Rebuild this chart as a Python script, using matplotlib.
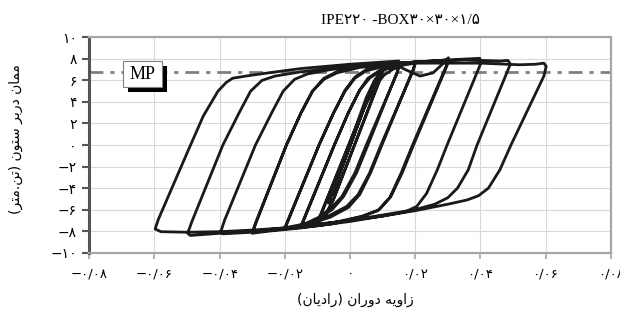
import matplotlib
matplotlib.use('Agg')
import matplotlib.pyplot as plt
from matplotlib.patches import Rectangle

# ---- data ----
# rotation (rad) and moment (t.m) along the hysteresis path, cycle by cycle
rotation = [
    0.0, 0.004, -0.004, 0.0055, -0.0055, 0.0068, -0.0066,                      # elastic cycles
    0.0, 0.005, 0.0075, 0.009, 0.01,                                             # 0.01 (1)
    0.0095, -0.005, -0.0075, -0.01,
    -0.0088, -0.0004, 0.004, 0.0075, 0.009, 0.01,                                # 0.01 (2)
    0.0095, -0.005, -0.0075, -0.01,
    -0.0088, -0.0004, 0.004, 0.008, 0.0105, 0.013, 0.015,                        # 0.015 (1)
    0.0145, 0.005, 0.0015, -0.0025, -0.006, -0.0095, -0.013, -0.015,
    -0.0138, -0.0048, -0.0005, 0.003, 0.006, 0.0095, 0.015,                      # 0.015 (2)
    0.0145, 0.0055, 0.002, -0.002, -0.0055, -0.0095, -0.015,
    -0.0138, -0.0048, -0.0005, 0.003, 0.0055, 0.009, 0.014, 0.02,                # 0.02 (1)
    0.0195, 0.0095, 0.006, 0.0025, -0.001, -0.006, -0.012, -0.02,
    -0.0188, -0.0095, -0.005, -0.0015, 0.0015, 0.005, 0.012, 0.02,               # 0.02 (2)
    0.0195, 0.0098, 0.0063, 0.003, -0.0005, -0.006, -0.012, -0.02,
    -0.0188, -0.0095, -0.005, -0.0015, 0.0015, 0.005, 0.01, 0.013, 0.017,        # 0.03 (1)
    0.0215, 0.0255, 0.028, 0.0295, 0.0302,
    0.0298, 0.0195, 0.016, 0.0125, 0.009, 0.004, -0.005, -0.015, -0.025, -0.03,
    -0.0288, -0.0195, -0.015, -0.0115, -0.008, -0.004, 0.003, 0.015, 0.025, 0.03,   # 0.03 (2)
    0.0295, 0.0192, 0.0157, 0.0122, 0.0085, 0.003, -0.005, -0.015, -0.025, -0.03,
    -0.0288, -0.0195, -0.015, -0.0115, -0.008, -0.004, 0.003, 0.015, 0.03,       # 0.04
    0.037, 0.0398, 0.0403,
    0.0298, 0.0268, 0.0235, 0.0205, 0.017, 0.01, 0.0, -0.01, -0.02, -0.03,
    -0.039, -0.0397,
    -0.0385, -0.029, -0.024, -0.0205, -0.017, -0.013, -0.006, 0.005, 0.02,       # 0.05
    0.035, 0.046, 0.0485, 0.0492,
    0.039, 0.0363, 0.033, 0.03, 0.026, 0.02, 0.01, 0.0, -0.01, -0.02, -0.03,
    -0.04, -0.049, -0.0498,
    -0.0485, -0.039, -0.034, -0.0305, -0.027, -0.023, -0.015, 0.0, 0.02,        # 0.06
    0.04, 0.052, 0.057, 0.0595, 0.0602,
    0.0595, 0.0494, 0.046, 0.0425, 0.0395, 0.036, 0.03, 0.02, 0.01, 0.0, -0.01,
    -0.02, -0.03, -0.04, -0.05, -0.058, -0.0598,
    -0.0588, -0.0495, -0.045, -0.0405, -0.038, -0.036, -0.032, -0.025, -0.015,
    0.0, 0.015,
]
moment = [
    0.0, 3.3, -3.3, 4.5, -4.6, 5.4, -5.4,
    0.2, 4.4, 6.0, 6.6, 6.9,
    6.3, -5.0, -6.5, -7.1,
    -6.3, 0.0, 3.3, 5.7, 6.5, 7.0,
    6.4, -5.0, -6.5, -7.2,
    -6.4, 0.0, 3.2, 5.6, 6.5, 7.0, 7.3,
    6.7, 0.0, -2.6, -4.8, -5.9, -6.7, -7.2, -7.5,
    -6.6, 0.0, 3.0, 5.1, 6.2, 6.9, 7.4,
    6.8, 0.0, -2.6, -4.8, -6.0, -6.8, -7.6,
    -6.7, 0.0, 3.0, 5.1, 6.2, 6.9, 7.3, 7.6,
    7.0, 0.0, -2.6, -4.6, -5.7, -6.5, -7.2, -7.7,
    -6.8, 0.0, 3.0, 5.0, 6.2, 6.9, 7.4, 7.7,
    7.1, 0.0, -2.6, -4.6, -5.8, -6.7, -7.3, -7.8,
    -6.9, 0.0, 3.0, 5.1, 6.3, 7.0, 7.4, 7.6, 7.0,
    6.4, 6.7, 7.4, 7.9, 8.1,
    7.4, 0.0, -2.6, -4.8, -6.0, -6.6, -7.2, -7.6, -7.9, -8.1,
    -7.1, 0.0, 3.0, 5.0, 6.1, 6.7, 7.2, 7.6, 7.8, 7.9,
    7.3, 0.0, -2.6, -4.9, -6.1, -6.7, -7.3, -7.7, -8.0, -8.2,
    -7.2, 0.0, 3.0, 5.0, 6.2, 6.8, 7.3, 7.6, 7.9,
    8.0, 8.05, 7.7,
    0.0, -2.3, -4.5, -5.7, -6.2, -6.6, -7.1, -7.5, -7.8, -8.1,
    -8.25, -8.1,
    -7.0, 0.0, 3.0, 5.0, 6.1, 6.6, 7.0, 7.4, 7.7,
    7.9, 7.8, 7.85, 7.5,
    0.0, -2.3, -4.0, -4.9, -5.5, -6.0, -6.5, -7.0, -7.4, -7.7, -8.0,
    -8.2, -8.4, -8.2,
    -7.1, 0.0, 3.0, 5.0, 6.0, 6.4, 6.8, 7.3, 7.6,
    7.6, 7.45, 7.5, 7.6, 7.3,
    6.4, 0.0, -2.3, -4.0, -4.7, -5.1, -5.5, -6.1, -6.6, -7.0, -7.35,
    -7.7, -7.9, -8.05, -8.1, -8.05, -7.8,
    -6.9, -0.4, 2.7, 5.0, 5.8, 6.2, 6.4, 6.7, 7.1,
    7.5, 7.8,
]
mp_value = 6.8

x_ticks = [-0.08, -0.06, -0.04, -0.02, 0.0, 0.02, 0.04, 0.06, 0.08]
x_ticklabels = ['−۰/۰۸', '−۰/۰۶', '−۰/۰۴', '−۰/۰۲', '۰', '۰/۰۲', '۰/۰۴', '۰/۰۶', '۰/۰۸']
y_ticks = [-10, -8, -6, -4, -2, 0, 2, 4, 6, 8, 10]
y_ticklabels = ['−۱۰', '−۸', '−۶', '−۴', '−۲', '۰', '۲', '۴', '۶', '۸', '۱۰']

title = 'IPE۲۲۰ -BOX۳۰×۳۰×۱/۵'
x_label = 'زاویه دوران (رادیان)'
y_label = 'ممان دربر ستون (تن.متر)'

# Persian letters -> presentation forms (isolated, final, initial, medial)
FORMS = {
    'ا': ('\uFE8D', '\uFE8E', None, None),
    'ب': ('\uFE8F', '\uFE90', '\uFE91', '\uFE92'),
    'ت': ('\uFE95', '\uFE96', '\uFE97', '\uFE98'),
    'د': ('\uFEA9', '\uFEAA', None, None),
    'ر': ('\uFEAD', '\uFEAE', None, None),
    'ز': ('\uFEAF', '\uFEB0', None, None),
    'س': ('\uFEB1', '\uFEB2', '\uFEB3', '\uFEB4'),
    'م': ('\uFEE1', '\uFEE2', '\uFEE3', '\uFEE4'),
    'ن': ('\uFEE5', '\uFEE6', '\uFEE7', '\uFEE8'),
    'ه': ('\uFEE9', '\uFEEA', '\uFEEB', '\uFEEC'),
    'و': ('\uFEED', '\uFEEE', None, None),
    'ی': ('\uFEEF', '\uFEF0', '\uFEF3', '\uFEF4'),
}


def fa(s):
    """shape persian text and put it in visual (left to right) order"""
    out = []
    for i, c in enumerate(s):
        if c not in FORMS:
            out.append(c)
            continue
        f = FORMS[c]
        prev = s[i - 1] if i > 0 else ''
        nxt = s[i + 1] if i + 1 < len(s) else ''
        join_prev = prev in FORMS and FORMS[prev][2] is not None
        join_next = f[2] is not None and nxt in FORMS
        if join_prev and join_next:
            out.append(f[3])
        elif join_prev:
            out.append(f[1])
        elif join_next:
            out.append(f[2])
        else:
            out.append(f[0])
    mirror = {'(': ')', ')': '('}
    return ''.join(mirror.get(c, c) for c in reversed(out))


plt.rcParams['font.family'] = ['DejaVu Sans']

fig = plt.figure(figsize=(6.2, 3.31), dpi=100)
ax = fig.add_axes([0.144, 0.2366, 0.841, 0.6507])

ax.plot(rotation, moment, color='#1a1a1a', lw=2.0, solid_joinstyle='round',
        solid_capstyle='round', zorder=3)
ax.axhline(mp_value, color='#808080', lw=2.0, linestyle=(0, (5, 2.5, 1.5, 2.5)), zorder=2)

# MP label: white box with black drop shadow
ax.add_patch(Rectangle((-0.0681, 4.92), 0.012, 2.41, fc='black', ec='none', zorder=4))
ax.add_patch(Rectangle((-0.0696, 5.39), 0.012, 2.41, fc='white', ec='#808080', lw=0.8, zorder=5))
ax.text(-0.0636, 6.55, 'MP', ha='center', va='center', fontsize=13,
        family='Liberation Serif', color='black', zorder=6)

ax.set_xlim(-0.08, 0.08)
ax.set_ylim(-10, 10)
ax.set_xticks(x_ticks)
ax.set_xticklabels(x_ticklabels, fontsize=9.5)
ax.set_yticks(y_ticks)
ax.set_yticklabels(y_ticklabels, fontsize=10)

ax.grid(True, color='#d9d9d9', lw=0.8)
ax.set_axisbelow(True)

for side in ['top', 'right', 'bottom']:
    ax.spines[side].set_color('#a6a6a6')
    ax.spines[side].set_linewidth(1.6)
ax.spines['left'].set_color('#555555')
ax.spines['left'].set_linewidth(2.2)
ax.tick_params(axis='y', direction='out', length=5, width=1.5, color='#555555', pad=4)
ax.tick_params(axis='x', direction='out', length=4, width=1.2, color='#a6a6a6', pad=7)

fig.text(400 / 620, 1 - 20 / 331, title, ha='center', va='center', fontsize=11,
         family=['Liberation Serif', 'DejaVu Sans'])
fig.text(355 / 620, 1 - 300 / 331, fa(x_label), ha='center', va='center', fontsize=10)
fig.text(16 / 620, 1 - 139 / 331, fa(y_label), ha='center', va='center', fontsize=10,
         rotation=90)

fig.savefig('out.png', dpi=100)
